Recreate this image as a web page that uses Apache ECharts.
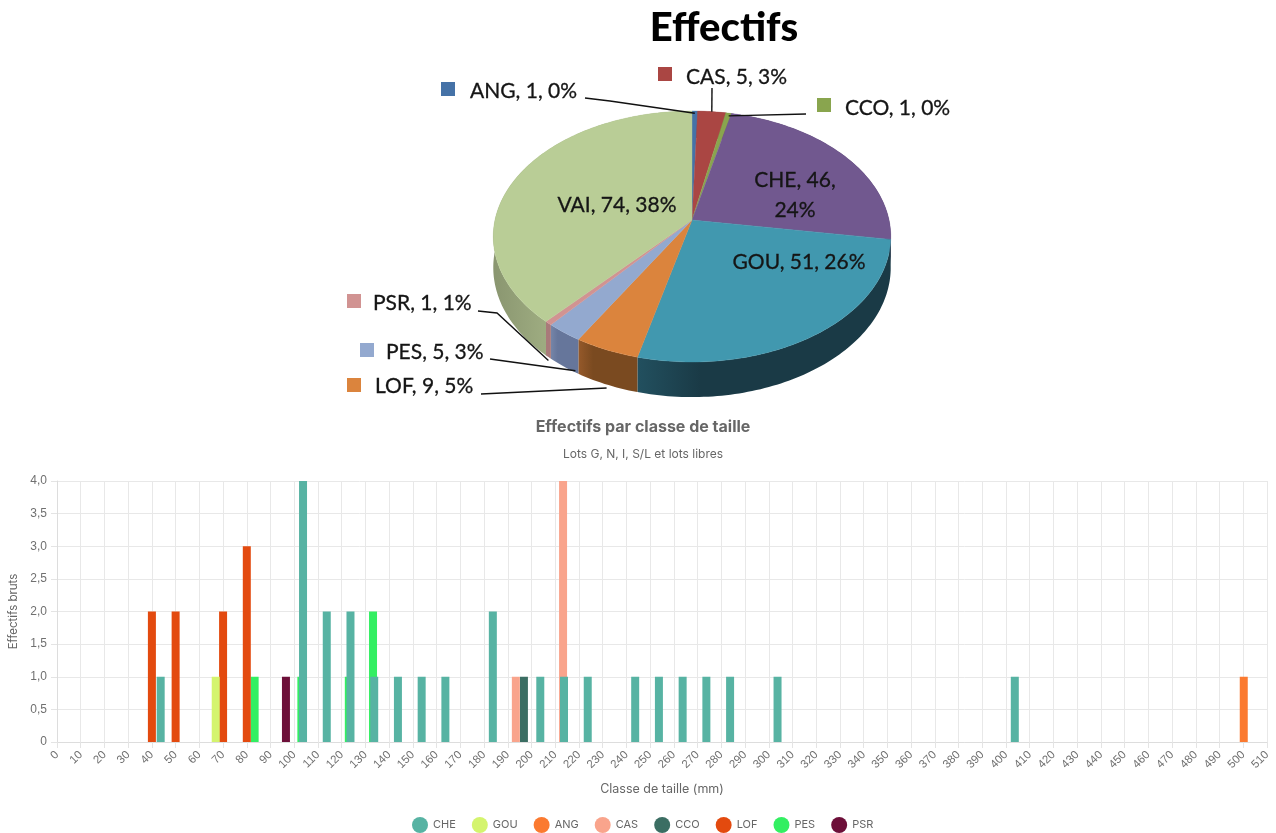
<!DOCTYPE html>
<html>
<head>
<meta charset="utf-8">
<title>Effectifs</title>
<script src="https://cdn.jsdelivr.net/npm/echarts@6/dist/echarts.min.js"></script>
<style>
  html, body { margin: 0; padding: 0; background: #fff; }
  #chart { width: 1276px; height: 833px; }
</style>
</head>
<body>
<div id="chart"></div>
<script>
// pie data
const pieNames = ['ANG', 'CAS', 'CCO', 'CHE', 'GOU', 'LOF', 'PES', 'PSR', 'VAI'];
const pieValues = [1, 5, 1, 46, 51, 9, 5, 1, 74];
const pieShares = [0, 3, 0, 24, 26, 5, 3, 1, 38];

// bar data: [taille, effectif]
const cheBars = [[43.7, 1], [103.7, 4], [113.7, 2], [123.7, 2], [133.7, 1], [143.7, 1], [153.7, 1], [163.7, 1], [183.7, 2], [203.7, 1], [213.7, 1], [223.7, 1], [243.7, 1], [253.7, 1], [263.7, 1], [273.7, 1], [283.7, 1], [303.7, 1], [403.7, 1]];
const gouBars = [[66.9, 1]];
const angBars = [[500.2, 1]];
const casBars = [[193.4, 1], [213.3, 4]];
const ccoBars = [[196.8, 1]];
const lofBars = [[40, 2], [50, 2], [70, 2], [80, 3]];
const pesBars = [[83.3, 1], [103, 1], [123, 1], [133.2, 2]];
const psrBars = [[96.5, 1]];

// pie look
const pieColors = ['#4572a7', '#aa4643', '#89a54e', '#71588f', '#4198af', '#db843d', '#93a9cf', '#d19392', '#b9cd96'];
const wallColors = [
  ['#34557d', '#34557d'], ['#7f3432', '#7f3432'], ['#667b3a', '#667b3a'], ['#4a3563', '#3f2d55'],
  ['#22505f', '#1a3a46'], ['#95592a', '#7a4a20'], ['#7585a8', '#66769b'], ['#a97a7a', '#a97a7a'], ['#8a9670', '#9dab80']
];
// at = where along the slice the leader line lands, wall = how far down the side
const labelLayout = {
  ANG: { key: [441, 82], x: 470, y: 91, line: [[585, 98], [610, 101]], at: 0.5, wall: 0.08 },
  CAS: { key: [658, 67], x: 686, y: 77, line: [[712, 88]], at: 0.5, wall: 0 },
  CCO: { key: [817, 98], x: 845, y: 108, line: [[806, 114]], at: 0.5, wall: 0.1 },
  CHE: { x: 795, y: 195, center: true },
  GOU: { x: 799, y: 262, center: true },
  LOF: { key: [347, 378], x: 375, y: 386, line: [[481, 394]], at: 0.5, wall: 1.1 },
  PES: { key: [360, 343], x: 386, y: 352, line: [[490, 359]], at: 0.1, wall: 0.95 },
  PSR: { key: [347, 294], x: 373, y: 303, line: [[478, 311], [497, 313]], at: 0.5, wall: 1.1 },
  VAI: { x: 617, y: 205, center: true }
};

const pieCx = 692, pieCy = 220, pieR = 197, pieRy = 123.3, pieK = 0.1315, pieDepth = 30.5;
const pieTotal = pieValues.reduce((a, b) => a + b, 0);
const pieStarts = [];
pieValues.reduce((sum, v, i) => { pieStarts[i] = sum; return sum + v; }, 0);

// angle (0 = back, clockwise) -> pixel on the tilted disc, a bit of perspective like the excel chart
function piePoint(angle, down) {
  const d = Math.cos(angle);
  const s = 1 / (1 + pieK * d);
  return [pieCx + pieR * Math.sin(angle) * s, pieCy - pieRy * d * s + (down || 0) * pieDepth * s];
}
function sliceAngles(i) {
  return [pieStarts[i] / pieTotal * Math.PI * 2, (pieStarts[i] + pieValues[i]) / pieTotal * Math.PI * 2];
}
function arcPoints(i, down) {
  const [a0, a1] = sliceAngles(i);
  const steps = Math.max(2, Math.ceil((a1 - a0) / 0.02));
  const pts = [];
  for (let k = 0; k <= steps; k++) pts.push(piePoint(a0 + (a1 - a0) * k / steps, down));
  return pts;
}

function renderWall(params) {
  const i = params.dataIndex;
  const pts = arcPoints(i, 0).concat(arcPoints(i, 1).reverse());
  return {
    type: 'polygon',
    shape: { points: pts },
    style: {
      fill: { type: 'linear', x: 0, y: 0, x2: 1, y2: 0, colorStops: [
        { offset: 0, color: wallColors[i][0] },
        { offset: 0.25, color: wallColors[i][1] },
        { offset: 1, color: wallColors[i][1] }
      ] }
    }
  };
}
function renderTop(params) {
  const i = params.dataIndex;
  return {
    type: 'polygon',
    shape: { points: [[pieCx, pieCy]].concat(arcPoints(i, 0)) },
    style: { fill: pieColors[i], stroke: pieColors[i], lineWidth: 0.4 }
  };
}
function renderLabel(params) {
  const i = params.dataIndex;
  const name = pieNames[i];
  const lay = labelLayout[name];
  const children = [];
  let text = name + ', ' + pieValues[i] + ', ' + pieShares[i] + '%';
  if (name === 'CHE') text = name + ', ' + pieValues[i] + ',\n' + pieShares[i] + '%';
  children.push({
    type: 'text',
    style: {
      x: lay.x, y: lay.y, text: text,
      font: '21px Lato', fill: '#151515', stroke: '#151515', lineWidth: 0.3, lineHeight: 30,
      align: lay.center ? 'center' : 'left', verticalAlign: 'middle'
    }
  });
  if (lay.key) {
    children.push({ type: 'rect', shape: { x: lay.key[0], y: lay.key[1], width: 14, height: 14 }, style: { fill: pieColors[i] } });
    const [a0, a1] = sliceAngles(i);
    const end = piePoint(a0 + (a1 - a0) * lay.at, lay.wall);
    children.push({
      type: 'polyline',
      shape: { points: lay.line.concat([end]) },
      style: { fill: null, stroke: '#111', lineWidth: 1.4 }
    });
  }
  return { type: 'group', children: children };
}

const legendNames = ['CHE', 'GOU', 'ANG', 'CAS', 'CCO', 'LOF', 'PES', 'PSR'];
const barData = { CHE: cheBars, GOU: gouBars, ANG: angBars, CAS: casBars, CCO: ccoBars, LOF: lofBars, PES: pesBars, PSR: psrBars };
const barColors = { CHE: '#57b3a3', GOU: '#d4f46e', ANG: '#fb7a30', CAS: '#f9a48c', CCO: '#3b6e63', LOF: '#e34a0f', PES: '#33ef62', PSR: '#6d0f39' };

// CHE has to end up on top of the others, so it goes last
const barSeries = legendNames.slice().reverse().map(name => ({
  name: name,
  type: 'bar',
  barWidth: 8,
  barGap: '-100%',
  itemStyle: { color: barColors[name] },
  data: barData[name]
}));

const greyFont = { color: '#666', fontFamily: 'Inter' };
const tickFont = { color: '#707070', fontFamily: 'Liberation Sans' };

let myChart = echarts.init(document.getElementById('chart'));
myChart.setOption({
  animation: false,
  backgroundColor: '#fff',
  title: [
    { text: 'Effectifs', left: 719, top: 3, textAlign: 'center', textStyle: { fontFamily: 'Lato', fontWeight: 900, fontSize: 40, color: '#000' } },
    { text: 'Effectifs par classe de taille', left: 638, top: 414, textAlign: 'center', textStyle: { ...greyFont, fontWeight: 700, fontSize: 16 } },
    { text: 'Lots G, N, I, S/L et lots libres', left: 638, top: 443, textAlign: 'center', textStyle: { ...greyFont, fontWeight: 400, fontSize: 12 } }
  ],
  legend: {
    data: legendNames,
    top: 812,
    left: 407,
    icon: 'circle',
    itemWidth: 16,
    itemHeight: 16,
    itemGap: 16,
    textStyle: { ...greyFont, fontSize: 11 }
  },
  grid: { left: 57, right: 9, top: 481, bottom: 91, outerBoundsMode: 'none' },
  xAxis: {
    type: 'value',
    min: 0,
    max: 510,
    interval: 10,
    name: 'Classe de taille (mm)',
    nameLocation: 'middle',
    nameGap: 41,
    nameTextStyle: { ...greyFont, fontSize: 12.5 },
    axisLine: { lineStyle: { color: '#ddd' } },
    axisTick: { show: true, length: 6, lineStyle: { color: '#e4e4e4' } },
    axisLabel: { ...tickFont, fontSize: 11.5, rotate: 45, margin: 11, showMaxLabel: true, showMinLabel: true, hideOverlap: false },
    splitLine: { show: true, lineStyle: { color: '#e8e8e8' } }
  },
  yAxis: {
    type: 'value',
    min: 0,
    max: 4,
    interval: 0.5,
    name: 'Effectifs bruts',
    nameLocation: 'middle',
    nameGap: 35,
    nameTextStyle: { ...greyFont, fontSize: 11.5 },
    axisLine: { show: true, lineStyle: { color: '#ddd' } },
    axisTick: { show: true, length: 6, lineStyle: { color: '#e4e4e4' } },
    axisLabel: { ...tickFont, fontSize: 12, margin: 10, formatter: v => v === 0 ? '0' : v.toFixed(1).replace('.', ',') },
    splitLine: { show: true, lineStyle: { color: '#e8e8e8' } }
  },
  series: barSeries.concat([
    { type: 'custom', coordinateSystem: 'none', silent: true, data: pieValues, renderItem: renderWall, z: 3 },
    { type: 'custom', coordinateSystem: 'none', silent: true, data: pieValues, renderItem: renderTop, z: 4 },
    { type: 'custom', coordinateSystem: 'none', silent: true, data: pieValues, renderItem: renderLabel, z: 5 }
  ])
});
</script>
</body>
</html>
